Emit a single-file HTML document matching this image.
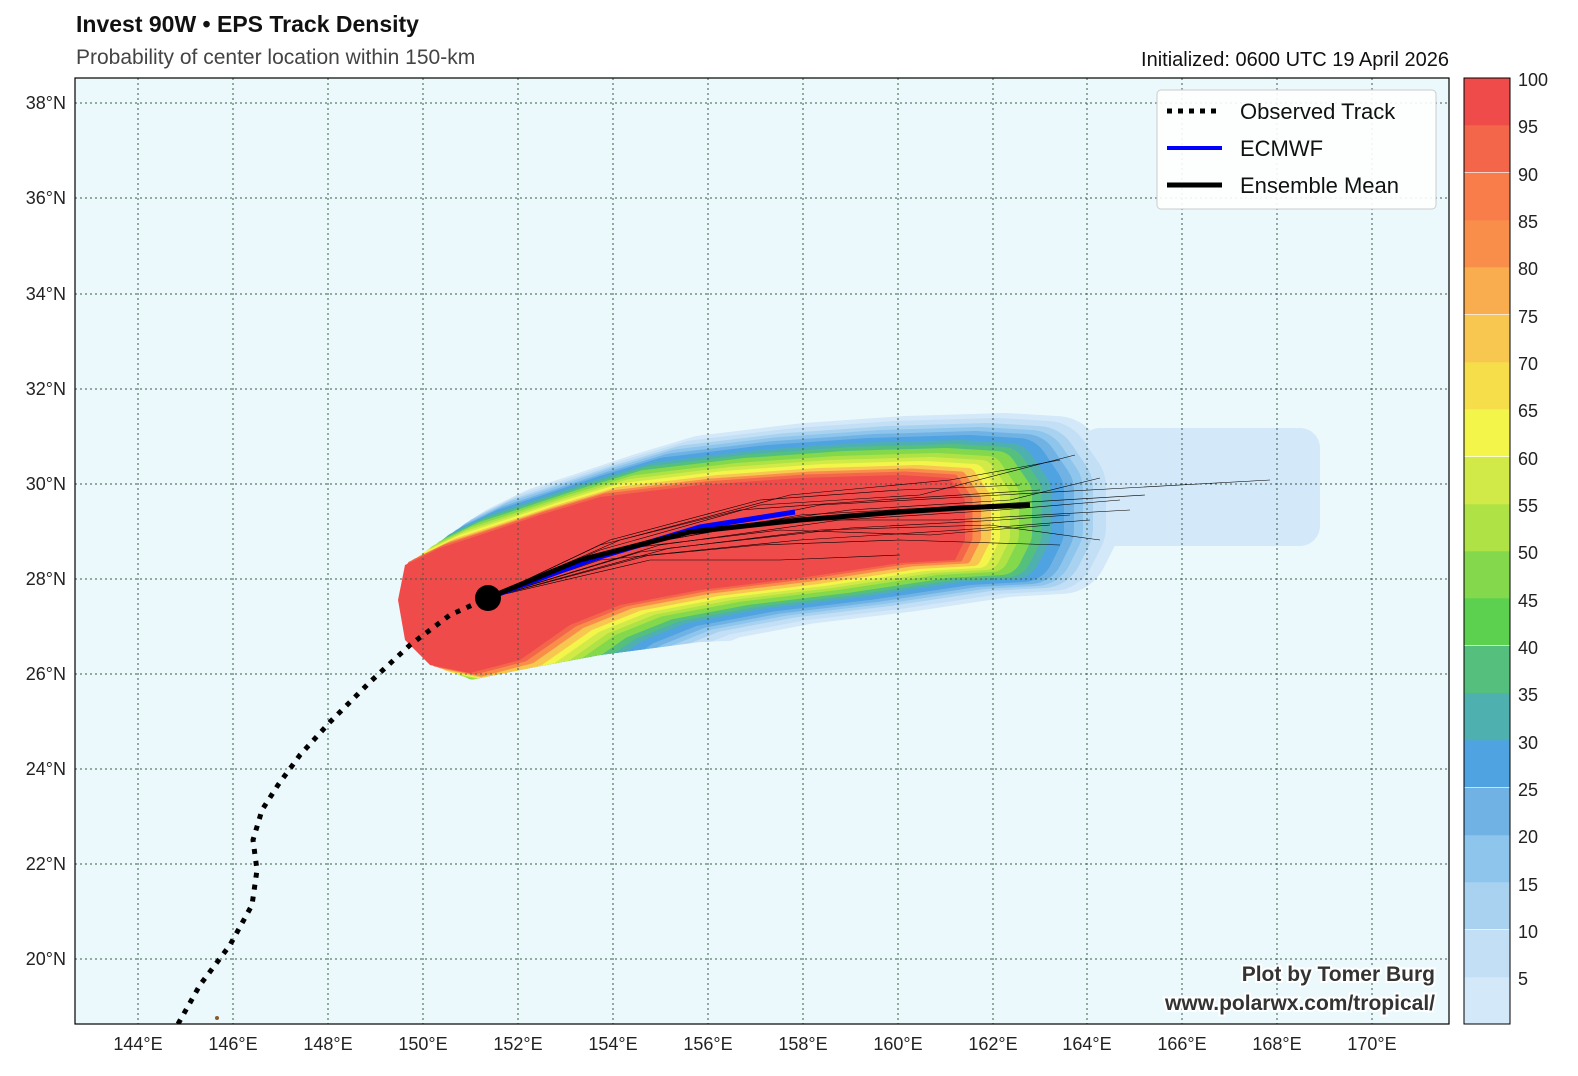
<!DOCTYPE html>
<html><head><meta charset="utf-8"><style>
html,body{margin:0;padding:0;background:#fff;overflow:hidden;width:1578px;height:1076px;}
svg{display:block;font-family:"Liberation Sans",sans-serif;}
</style></head><body>
<svg width="1578" height="1076" viewBox="0 0 1578 1076" xmlns="http://www.w3.org/2000/svg">
<rect width="1578" height="1076" fill="#fff"/>
<text x="76" y="32" font-size="23" font-weight="bold" fill="#111">Invest 90W • EPS Track Density</text>
<text x="76" y="64" font-size="21" fill="#444">Probability of center location within 150-km</text>
<text x="1449" y="66" font-size="20" fill="#111" text-anchor="end">Initialized: 0600 UTC 19 April 2026</text>
<defs>
<clipPath id="c"><rect x="75" y="78" width="1374" height="946"/></clipPath>
<clipPath id="b"><path d="M75 78 L1449 78 L1449 600 L1090 603 L1000 612 L830 637 L700 642 L600 655 L530 668 L470 680 L75 680 Z"/></clipPath>
<path id="r" d="M398 600 L405 565 L440 548 L480 535 L540 515 L600 497 L700 485 L800 478 L900 475 L950 478 L965 500 L965 540 L955 560 L900 563 L800 578 L700 590 L620 605 L570 625 L520 660 L470 673 L430 665 L405 640 Z"/>
</defs>
<rect x="75" y="78" width="1374" height="946" fill="#ecf9fc"/>
<g clip-path="url(#c)">
<g clip-path="url(#b)" stroke-linejoin="round">
<rect x="1080" y="428" width="240" height="118" rx="20" fill="#d3e8f8"/>
<use href="#r" transform="translate(106,-14)" fill="#d3e8f8" stroke="#d3e8f8" stroke-width="96"/>
<use href="#r" transform="translate(97,-13)" fill="#c2dff5" stroke="#c2dff5" stroke-width="88"/>
<use href="#r" transform="translate(88,-12)" fill="#a9d2f0" stroke="#a9d2f0" stroke-width="80"/>
<use href="#r" transform="translate(81,-11)" fill="#8ec5ec" stroke="#8ec5ec" stroke-width="74"/>
<use href="#r" transform="translate(75,-10)" fill="#71b2e5" stroke="#71b2e5" stroke-width="68"/>
<use href="#r" transform="translate(68,-9)" fill="#4fa3e0" stroke="#4fa3e0" stroke-width="62"/>
<use href="#r" transform="translate(59,-8)" fill="#4fb0b0" stroke="#4fb0b0" stroke-width="54"/>
<use href="#r" transform="translate(53,-7)" fill="#55c07d" stroke="#55c07d" stroke-width="48"/>
<use href="#r" transform="translate(46,-6)" fill="#83d94b" stroke="#83d94b" stroke-width="42"/>
<use href="#r" transform="translate(37,-5)" fill="#aee245" stroke="#aee245" stroke-width="34"/>
<use href="#r" transform="translate(31,-4)" fill="#d2ea48" stroke="#d2ea48" stroke-width="28"/>
<use href="#r" transform="translate(24,-3)" fill="#f4f54a" stroke="#f4f54a" stroke-width="22"/>
<use href="#r" transform="translate(18,-2)" fill="#f8c750" stroke="#f8c750" stroke-width="16"/>
<use href="#r" transform="translate(11,-1.5)" fill="#f98e4b" stroke="#f98e4b" stroke-width="10"/>
<use href="#r" transform="translate(5,-1)" fill="#f4664a" stroke="#f4664a" stroke-width="5"/>
</g>
<use href="#r" fill="#ef4b4b"/>
</g>
<g clip-path="url(#c)" stroke="#3a5a4a" stroke-width="1" stroke-dasharray="2,3">
<path d="M138 78V1024M233 78V1024M328 78V1024M423 78V1024M518 78V1024M613 78V1024M708 78V1024M803 78V1024M898 78V1024M993 78V1024M1087 78V1024M1182 78V1024M1277 78V1024M1372 78V1024"/>
<path d="M75 103H1449M75 198H1449M75 294H1449M75 389H1449M75 484H1449M75 579H1449M75 674H1449M75 769H1449M75 864H1449M75 959H1449"/>
</g>
<g clip-path="url(#c)" fill="none" stroke="#000" stroke-width="0.6">
<path d="M488 598 L650 540 L820 505 L1000 495 L1270 480"/>
<path d="M488 598 L640 545 L800 515 L980 505 L1145 495"/>
<path d="M488 598 L620 548 L780 520 L950 520 L1130 510"/>
<path d="M488 598 L600 550 L760 505 L920 495 L1075 455"/>
<path d="M488 598 L620 540 L790 495 L950 480 L1060 460"/>
<path d="M488 598 L650 555 L800 540 L960 530 L1090 520"/>
<path d="M488 598 L600 560 L760 545 L900 540 L1060 545"/>
<path d="M488 598 L640 552 L820 530 L990 525 L1100 540"/>
<path d="M488 598 L660 545 L840 520 L1000 510 L1120 500"/>
<path d="M488 598 L600 545 L740 510 L880 500 L1040 490"/>
<path d="M488 598 L630 548 L780 530 L930 535 L1050 525"/>
<path d="M488 598 L610 540 L760 500 L900 490 L1020 485"/>
<path d="M488 598 L670 548 L850 528 L1000 520 L1070 515"/>
<path d="M488 598 L580 560 L700 530 L850 510 L1010 500 L1100 478"/>
<path d="M488 598 L650 560 L780 560 L900 555"/>
</g>
<g clip-path="url(#c)" fill="none">
<path d="M178 1024 L200 985 L230 945 L252 905 L257 870 L253 840 L262 810 L278 785 L300 755 L330 722 L370 682 L410 645 L450 615 L488 598" stroke="#000" stroke-width="5" stroke-dasharray="5,7"/>
<path d="M488 598 L590 560 L700 527 L795 512" stroke="#0000ff" stroke-width="5"/>
<path d="M488 598 L580 560 L690 532 L800 520 L900 512 L960 508 L1030 505" stroke="#000" stroke-width="5"/>
<circle cx="488" cy="598" r="13" fill="#000"/>
<circle cx="217" cy="1018" r="2" fill="#8a5a2a"/>
</g>
<rect x="75" y="78" width="1374" height="946" fill="none" stroke="#000" stroke-width="1.2"/>
<g font-size="18" fill="#222" text-anchor="end">
<text x="66" y="109">38°N</text><text x="66" y="204">36°N</text><text x="66" y="300">34°N</text><text x="66" y="395">32°N</text><text x="66" y="490">30°N</text><text x="66" y="585">28°N</text><text x="66" y="680">26°N</text><text x="66" y="775">24°N</text><text x="66" y="870">22°N</text><text x="66" y="965">20°N</text>
</g>
<g font-size="18" fill="#222" text-anchor="middle">
<text x="138" y="1050">144°E</text><text x="233" y="1050">146°E</text><text x="328" y="1050">148°E</text><text x="423" y="1050">150°E</text><text x="518" y="1050">152°E</text><text x="613" y="1050">154°E</text><text x="708" y="1050">156°E</text><text x="803" y="1050">158°E</text><text x="898" y="1050">160°E</text><text x="993" y="1050">162°E</text><text x="1087" y="1050">164°E</text><text x="1182" y="1050">166°E</text><text x="1277" y="1050">168°E</text><text x="1372" y="1050">170°E</text>
</g>
<g font-size="21" font-weight="bold" fill="#333" text-anchor="end" stroke="#fff" stroke-width="4" paint-order="stroke">
<text x="1435" y="981">Plot by Tomer Burg</text>
<text x="1435" y="1010">www.polarwx.com/tropical/</text>
</g>
<rect x="1157" y="90" width="279" height="119" rx="4" fill="#fff" fill-opacity="0.9" stroke="#ccc"/>
<line x1="1167" y1="111" x2="1222" y2="111" stroke="#000" stroke-width="5" stroke-dasharray="5,6"/>
<line x1="1167" y1="148" x2="1222" y2="148" stroke="#0000ff" stroke-width="4"/>
<line x1="1167" y1="185" x2="1222" y2="185" stroke="#000" stroke-width="5"/>
<g font-size="22" fill="#111"><text x="1240" y="119">Observed Track</text><text x="1240" y="156">ECMWF</text><text x="1240" y="193">Ensemble Mean</text></g>
<g>
<rect x="1464" y="977" width="46" height="47.3" fill="#d3e8f8"/>
<rect x="1464" y="930" width="46" height="47.3" fill="#c2dff5"/>
<rect x="1464" y="882" width="46" height="47.3" fill="#a9d2f0"/>
<rect x="1464" y="835" width="46" height="47.3" fill="#8ec5ec"/>
<rect x="1464" y="788" width="46" height="47.3" fill="#71b2e5"/>
<rect x="1464" y="740" width="46" height="47.3" fill="#4fa3e0"/>
<rect x="1464" y="693" width="46" height="47.3" fill="#4fb0b0"/>
<rect x="1464" y="646" width="46" height="47.3" fill="#55c07d"/>
<rect x="1464" y="598" width="46" height="47.3" fill="#5cd150"/>
<rect x="1464" y="551" width="46" height="47.3" fill="#83d94b"/>
<rect x="1464" y="504" width="46" height="47.3" fill="#aee245"/>
<rect x="1464" y="457" width="46" height="47.3" fill="#d2ea48"/>
<rect x="1464" y="409" width="46" height="47.3" fill="#f4f54a"/>
<rect x="1464" y="362" width="46" height="47.3" fill="#f5de4a"/>
<rect x="1464" y="315" width="46" height="47.3" fill="#f8c750"/>
<rect x="1464" y="267" width="46" height="47.3" fill="#f9ad4f"/>
<rect x="1464" y="220" width="46" height="47.3" fill="#f98e4b"/>
<rect x="1464" y="173" width="46" height="47.3" fill="#f97c4b"/>
<rect x="1464" y="125" width="46" height="47.3" fill="#f4664a"/>
<rect x="1464" y="78" width="46" height="47.3" fill="#ef4b4b"/>
<rect x="1464" y="78" width="46" height="946" fill="none" stroke="#000"/>
</g>
<g font-size="18" fill="#222">
<text x="1518" y="985">5</text><text x="1518" y="938">10</text><text x="1518" y="891">15</text><text x="1518" y="843">20</text><text x="1518" y="796">25</text><text x="1518" y="749">30</text><text x="1518" y="701">35</text><text x="1518" y="654">40</text><text x="1518" y="607">45</text><text x="1518" y="559">50</text><text x="1518" y="512">55</text><text x="1518" y="465">60</text><text x="1518" y="417">65</text><text x="1518" y="370">70</text><text x="1518" y="323">75</text><text x="1518" y="275">80</text><text x="1518" y="228">85</text><text x="1518" y="181">90</text><text x="1518" y="133">95</text><text x="1518" y="86">100</text>
</g>
</svg>
</body></html>
